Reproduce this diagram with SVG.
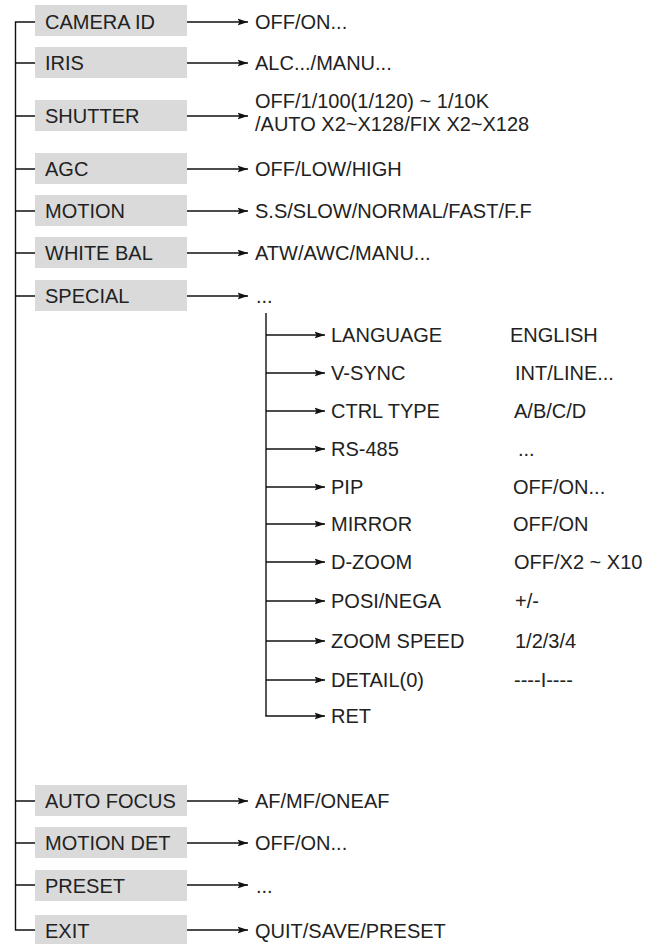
<svg xmlns="http://www.w3.org/2000/svg" width="666" height="944" viewBox="0 0 666 944">
<defs>
<marker id="ah" markerUnits="userSpaceOnUse" markerWidth="11" markerHeight="8" refX="10.5" refY="4" orient="auto">
<path d="M0,0.5 L10.5,4 L0,7.5 L2,4 z" fill="#111"/>
</marker>
<style>
text{font-family:"Liberation Sans",Arial,sans-serif;font-size:20px;fill:#222}
.box{fill:#dadada}
.ln{stroke:#111;stroke-width:1.4;fill:none}
.ar{stroke:#111;stroke-width:1.4;fill:none;marker-end:url(#ah)}
</style>
</defs>
<rect width="666" height="944" fill="#fff"/>
<g id="connectors">
<path class="ln" d="M35,22 H15.5 V930 H35"/>
<path class="ln" d="M15.5,63 H35 M15.5,116 H35 M15.5,169 H35 M15.5,211 H35 M15.5,253 H35 M15.5,296 H35 M15.5,801 H35 M15.5,843 H35 M15.5,885 H35"/>
<path class="ar" d="M187,22 H248"/>
<path class="ar" d="M187,63 H248"/>
<path class="ar" d="M187,116 H248"/>
<path class="ar" d="M187,169 H248"/>
<path class="ar" d="M187,211 H248"/>
<path class="ar" d="M187,253 H248"/>
<path class="ar" d="M187,296 H248"/>
<path class="ar" d="M187,801 H248"/>
<path class="ar" d="M187,843 H248"/>
<path class="ar" d="M187,885 H248"/>
<path class="ar" d="M187,930 H248"/>
<path class="ln" d="M266,313 V716"/>
<path class="ar" d="M266,335 H325"/>
<path class="ar" d="M266,373 H325"/>
<path class="ar" d="M266,411 H325"/>
<path class="ar" d="M266,449 H325"/>
<path class="ar" d="M266,487 H325"/>
<path class="ar" d="M266,524 H325"/>
<path class="ar" d="M266,562 H325"/>
<path class="ar" d="M266,601 H325"/>
<path class="ar" d="M266,641 H325"/>
<path class="ar" d="M266,680 H325"/>
<path class="ar" d="M265.3,716 H325"/>
</g>
<g id="camera-id"><rect class="box" x="35" y="5" width="152" height="31"/><text x="45" y="29">CAMERA ID</text><text x="255" y="29">OFF/ON...</text></g>
<g id="iris"><rect class="box" x="35" y="47" width="152" height="31"/><text x="45" y="70">IRIS</text><text x="255" y="70">ALC.../MANU...</text></g>
<g id="shutter"><rect class="box" x="35" y="100" width="152" height="31"/><text x="45" y="123">SHUTTER</text><text x="255" y="108">OFF/1/100(1/120) ~ 1/10K</text><text x="255" y="131">/AUTO X2~X128/FIX X2~X128</text></g>
<g id="agc"><rect class="box" x="35" y="153" width="152" height="31"/><text x="45" y="176">AGC</text><text x="255" y="176">OFF/LOW/HIGH</text></g>
<g id="motion"><rect class="box" x="35" y="195" width="152" height="31"/><text x="45" y="218">MOTION</text><text x="255" y="218">S.S/SLOW/NORMAL/FAST/F.F</text></g>
<g id="white-bal"><rect class="box" x="35" y="237" width="152" height="31"/><text x="45" y="260">WHITE BAL</text><text x="255" y="260">ATW/AWC/MANU...</text></g>
<g id="special"><rect class="box" x="35" y="280" width="152" height="31"/><text x="45" y="303">SPECIAL</text><text x="256" y="303">...</text></g>
<g id="language"><text x="331" y="342">LANGUAGE</text><text x="510" y="342">ENGLISH</text></g>
<g id="v-sync"><text x="331" y="380">V-SYNC</text><text x="515" y="380">INT/LINE...</text></g>
<g id="ctrl-type"><text x="331" y="418">CTRL TYPE</text><text x="514" y="418">A/B/C/D</text></g>
<g id="rs-485"><text x="331" y="456">RS-485</text><text x="518" y="456">...</text></g>
<g id="pip"><text x="331" y="494">PIP</text><text x="513" y="494">OFF/ON...</text></g>
<g id="mirror"><text x="331" y="531">MIRROR</text><text x="513" y="531">OFF/ON</text></g>
<g id="d-zoom"><text x="331" y="569">D-ZOOM</text><text x="514" y="569">OFF/X2 ~ X10</text></g>
<g id="posi-nega"><text x="331" y="608">POSI/NEGA</text><text x="515" y="608">+/-</text></g>
<g id="zoom-speed"><text x="331" y="648">ZOOM SPEED</text><text x="515" y="648">1/2/3/4</text></g>
<g id="detail"><text x="331" y="687">DETAIL(0)</text><text x="514" y="687">----I----</text></g>
<g id="ret"><text x="331" y="723">RET</text></g>
<g id="auto-focus"><rect class="box" x="35" y="785" width="152" height="31"/><text x="45" y="808">AUTO FOCUS</text><text x="255" y="808">AF/MF/ONEAF</text></g>
<g id="motion-det"><rect class="box" x="35" y="827" width="152" height="31"/><text x="45" y="850">MOTION DET</text><text x="255" y="850">OFF/ON...</text></g>
<g id="preset"><rect class="box" x="35" y="870" width="152" height="31"/><text x="45" y="893">PRESET</text><text x="256" y="893">...</text></g>
<g id="exit"><rect class="box" x="35" y="915" width="152" height="31"/><text x="45" y="938">EXIT</text><text x="255" y="938">QUIT/SAVE/PRESET</text></g>
</svg>
